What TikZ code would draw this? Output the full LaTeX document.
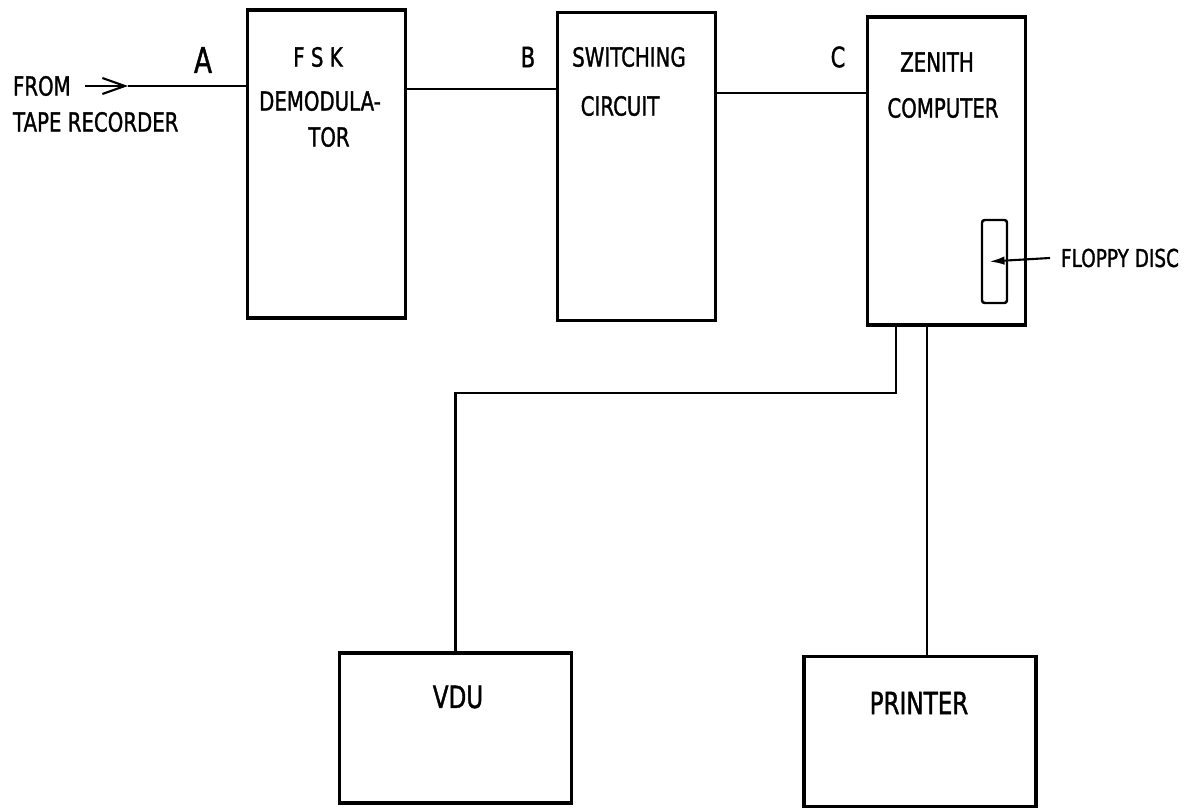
\documentclass[tikz,border=0pt]{standalone}
\usepackage{fontspec}
\setmainfont[FakeStretch=0.75, FakeBold=1.2]{DejaVu Sans}
\usetikzlibrary{arrows.meta, positioning}

\begin{document}
\begin{tikzpicture}[
    x=0.02cm, y=-0.02cm,
    every node/.style={font=\fontsize{15}{18}\selectfont, inner sep=0pt, outer sep=0pt},
    unitblock/.style={rectangle, draw, line width=1.8pt, minimum width=3.16cm, minimum height=6.16cm},
    outblock/.style={rectangle, draw, line width=1.8pt, minimum width=4.64cm, minimum height=3.0cm},
    slotblock/.style={rectangle, draw, line width=1.4pt, rounded corners=1.5pt, minimum width=0.5cm, minimum height=1.66cm},
    wire/.style={line width=1.2pt},
    feed/.style={line width=1.2pt, -{Straight Barb[length=0.45cm, width=0.32cm]}},
    pointer/.style={line width=1.2pt, -{Latex[length=0.3cm, width=0.17cm]}},
    tag/.style={font=\fontsize{16}{18}\selectfont},
    bigtag/.style={font=\fontsize{17.5}{20}\selectfont}
]
\useasboundingbox (0,0) rectangle (1189,810);

% processing chain
\node[unitblock] (fsk) at (326.5,164) {};
\node[unitblock] (switch) at (636.5,166.5) {};
\node[unitblock] (zenith) at (946.5,171) {};
\node[slotblock] (slot) at (994.5,261.5) {};

% output devices
\node[outblock] (vdu) at (455.5,728) {};
\node[outblock] (printer) at (920,731.5) {};

% texts
\node[anchor=west] (from) at (13,86) {FROM};
\node[anchor=west] (tape) at (13,122) {TAPE RECORDER};
\node[font=\fontsize{20}{22}\selectfont] (ptA) at (203,60) {A};
\node[tag] (ptB) at (528,57) {B};
\node[tag] (ptC) at (838,57) {C};

\node (fsk1) at (318,57) {F S K};
\node (fsk2) at (320,101) {DEMODULA-};
\node (fsk3) at (329,137) {TOR};
\node (sw1) at (629,57) {SWITCHING};
\node (sw2) at (620,106) {CIRCUIT};
\node (zen1) at (937,62) {ZENITH};
\node (zen2) at (943,108) {COMPUTER};
\node[bigtag] (vdutxt) at (458,697) {VDU};
\node[bigtag] (prntxt) at (919,703) {PRINTER};
\node[anchor=west, font=\fontsize{14}{16}\selectfont] (floppy) at (1061,258) {FLOPPY DISC};

% connections
\coordinate (src) at (85,86);
\coordinate (srctip) at (128,86);
\coordinate (rowB) at (0,89);
\coordinate (rowC) at (0,93);
\coordinate (vdubend) at (vdu.north |- 0,393);

\draw[feed] (src) -- (srctip);
\draw[wire] (srctip) -- (srctip -| fsk.west);
\draw[wire] (fsk.east |- rowB) -- (switch.west |- rowB);
\draw[wire] (switch.east |- rowC) -- (zenith.west |- rowC);
\draw[wire] ([xshift=-1.01cm]zenith.south) |- (vdubend) -- (vdu.north);
\draw[wire] ([xshift=-0.39cm]zenith.south) -- ([xshift=-0.39cm]zenith.south |- printer.north);
\draw[pointer] ([xshift=-0.22cm]floppy.west) -- ([xshift=-0.1cm]slot.center);

\end{tikzpicture}
\end{document}
